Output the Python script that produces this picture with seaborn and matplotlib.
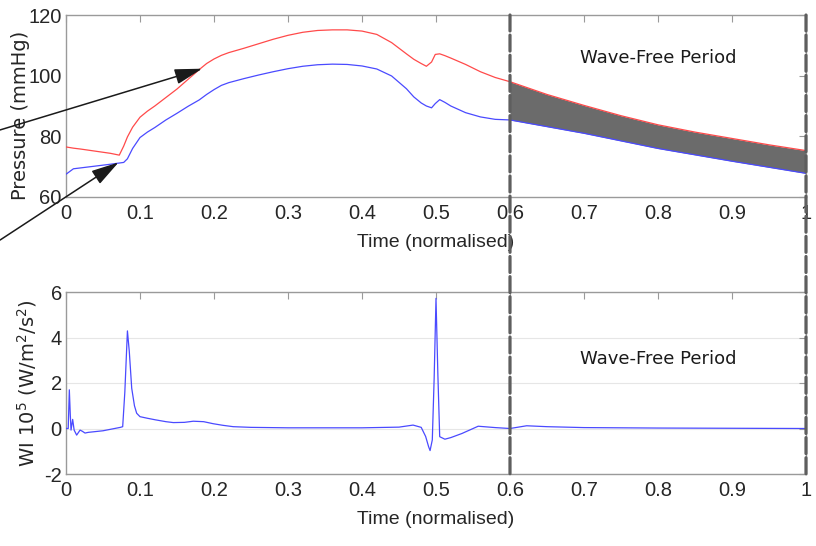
import numpy as np
import pandas as pd
import matplotlib
matplotlib.use("Agg")
import matplotlib.pyplot as plt
import seaborn as sns
from matplotlib.patches import ConnectionPatch
from matplotlib.ticker import FormatStrFormatter

# ---------------- data ----------------
t_p = [0, 0.01, 0.02, 0.04, 0.06, 0.072, 0.078, 0.083, 0.09, 0.1, 0.11, 0.12,
       0.135, 0.15, 0.165, 0.18, 0.19, 0.2, 0.21, 0.22, 0.24, 0.26, 0.28, 0.3,
       0.32, 0.34, 0.36, 0.38, 0.4, 0.42, 0.44, 0.46, 0.47, 0.48, 0.487, 0.494,
       0.499, 0.505, 0.512, 0.52, 0.54, 0.56, 0.58, 0.6, 0.65, 0.7, 0.75, 0.8,
       0.85, 0.9, 0.95, 1.0]
p_red = [76.5, 76.1, 75.8, 75.1, 74.4, 73.8, 76.8, 79.8, 83.0, 86.3, 88.3, 90.0,
         92.8, 95.6, 98.8, 102.0, 104.0, 105.5, 106.7, 107.6, 109.0, 110.5, 112.0, 113.3,
         114.3, 114.9, 115.1, 115.1, 114.7, 113.6, 110.9, 107.2, 105.4, 104.0, 103.1, 104.5,
         107.0, 107.2, 106.6, 105.8, 103.7, 101.3, 99.4, 98.0, 93.8, 90.2, 86.8, 83.8,
         81.4, 79.3, 77.2, 75.3]
p_blue = [67.5, 69.3, 69.6, 70.2, 70.8, 71.2, 71.4, 72.6, 76.0, 79.6, 81.4, 82.9,
          85.4, 87.6, 89.9, 92.0, 93.8, 95.4, 96.8, 97.7, 99.0, 100.2, 101.3, 102.3,
          103.1, 103.6, 103.8, 103.7, 103.2, 102.2, 99.9, 95.7, 93.0, 91.0, 90.0, 89.4,
          90.8, 92.1, 91.2, 90.0, 87.8, 86.4, 85.6, 85.4, 83.2, 81.0, 78.5, 76.0,
          73.9, 71.8, 69.8, 67.8]

t_wi = [0, 0.003, 0.0045, 0.0058, 0.0068, 0.009, 0.011, 0.0144, 0.019, 0.022,
        0.0257, 0.03, 0.05, 0.0735, 0.0766, 0.0795, 0.083, 0.0855, 0.0888, 0.0925,
        0.0955, 0.1, 0.11, 0.121, 0.135, 0.145, 0.16, 0.172, 0.186, 0.199, 0.212,
        0.226, 0.25, 0.3, 0.4, 0.45, 0.469, 0.48, 0.486, 0.49, 0.492, 0.495, 0.4975,
        0.5, 0.5025, 0.505, 0.512, 0.52, 0.535, 0.557, 0.58, 0.6, 0.6225, 0.65,
        0.7, 0.8, 1.0]
wi = [0, 0.0, 1.7, 0.6, -0.07, 0.4, -0.07, -0.29, -0.07, -0.12,
      -0.2, -0.17, -0.1, 0.05, 0.08, 1.6, 4.29, 3.4, 1.77, 1.0,
      0.67, 0.52, 0.45, 0.38, 0.3, 0.26, 0.27, 0.32, 0.3, 0.21, 0.14,
      0.08, 0.05, 0.03, 0.03, 0.06, 0.15, 0.05, -0.35, -0.8, -0.97, -0.5, 2.2,
      5.72, 2.4, -0.36, -0.47, -0.4, -0.22, 0.1, 0.04, 0.0, 0.12, 0.08,
      0.04, 0.02, 0.0]

x_ticks = [0, 0.1, 0.2, 0.3, 0.4, 0.5, 0.6, 0.7, 0.8, 0.9, 1.0]
p_ticks = [60, 80, 100, 120]
wi_ticks = [-2, 0, 2, 4, 6]
wave_free = (0.6, 1.0)
label_text = "Wave-Free Period"

# ---------------- style ----------------
sns.set_theme(style="white")
plt.rcParams['font.family'] = ['Liberation Sans', 'DejaVu Sans']
plt.rcParams['mathtext.fontset'] = 'custom'
plt.rcParams['mathtext.rm'] = 'DejaVu Sans'

spine_c = '#9a9a9a'
txt_c = '#262626'
red_c = '#ff4a4a'
blue_c = '#4a4aff'

fig = plt.figure(figsize=(8.16, 5.46), dpi=100)
W, H = 816, 546
ax1 = fig.add_axes([66 / W, 1 - 197 / H, 740 / W, 182 / H])
ax2 = fig.add_axes([66 / W, 1 - 474 / H, 740 / W, 182 / H])

dfp = pd.DataFrame({'t': t_p, 'red': p_red, 'blue': p_blue})
dfw = pd.DataFrame({'t': t_wi, 'wi': wi})

# shaded wave-free region
m = (dfp['t'] >= wave_free[0]) & (dfp['t'] <= wave_free[1])
ax1.fill_between(dfp['t'][m], dfp['blue'][m], dfp['red'][m], color='#6b6b6b', lw=0, zorder=1)

sns.lineplot(data=dfp, x='t', y='red', ax=ax1, color=red_c, lw=0.9, sort=False, zorder=3)
sns.lineplot(data=dfp, x='t', y='blue', ax=ax1, color=blue_c, lw=0.9, sort=False, zorder=3)
sns.lineplot(data=dfw, x='t', y='wi', ax=ax2, color=blue_c, lw=0.9, sort=False, zorder=3)

for ax, yt, yl in ((ax1, p_ticks, (60, 120)), (ax2, wi_ticks, (-2, 6))):
    ax.set_xlim(0, 1)
    ax.set_ylim(*yl)
    ax.set_xticks(x_ticks)
    ax.set_yticks(yt)
    ax.xaxis.set_major_formatter(FormatStrFormatter('%g'))
    ax.yaxis.set_major_formatter(FormatStrFormatter('%g'))
    for s in ax.spines.values():
        s.set_visible(True)
        s.set_color(spine_c)
        s.set_linewidth(1.0)
    ax.tick_params(direction='in', length=5, width=0.8, colors=spine_c,
                   labelcolor=txt_c, labelsize=14.5, top=True, right=True)
    ax.tick_params(axis='x', pad=5)
    ax.tick_params(axis='y', pad=3)
    ax.set_xlabel('Time (normalised)', fontsize=14, color=txt_c, labelpad=8)

ax2.yaxis.grid(True, color='#e6e6e6', lw=0.8)
ax2.set_axisbelow(True)

ax1.set_ylabel('Pressure (mmHg)', fontsize=14, color=txt_c, family='DejaVu Sans')
ax2.set_ylabel(r'WI 10$^5$ (W/m$^2$/s$^2$)', fontsize=14, color=txt_c, family='DejaVu Sans')
ax1.yaxis.set_label_coords(-0.049, 0.45)
ax2.yaxis.set_label_coords(-0.037, 0.5)

ax1.text(0.80, 105.8, label_text, ha='center', va='center', fontsize=13,
         family='DejaVu Sans', color='#1a1a1a')
ax2.text(0.80, 3.05, label_text, ha='center', va='center', fontsize=13,
         family='DejaVu Sans', color='#1a1a1a')

# arrows coming in from the left
arrow_kw = dict(arrowstyle='-|>,head_length=1.0,head_width=0.28', color='k', lw=1.1,
                mutation_scale=17, shrinkA=0, shrinkB=0)
ax1.annotate('', xy=(0.184, 102.3), xytext=(-0.0892, 82.1), arrowprops=arrow_kw,
             annotation_clip=False)
ax1.annotate('', xy=(0.071, 71.4), xytext=(-0.0892, 45.8), arrowprops=arrow_kw,
             annotation_clip=False)

# dashed boundaries across both panels
for xv in wave_free:
    cp = ConnectionPatch(xyA=(xv, 120), coordsA=ax1.transData,
                         xyB=(xv, -2), coordsB=ax2.transData,
                         color='#5e5e5e', lw=2.3, linestyle=(0, (5, 1.3)), zorder=10)
    fig.add_artist(cp)

fig.savefig('out.png', dpi=100)
